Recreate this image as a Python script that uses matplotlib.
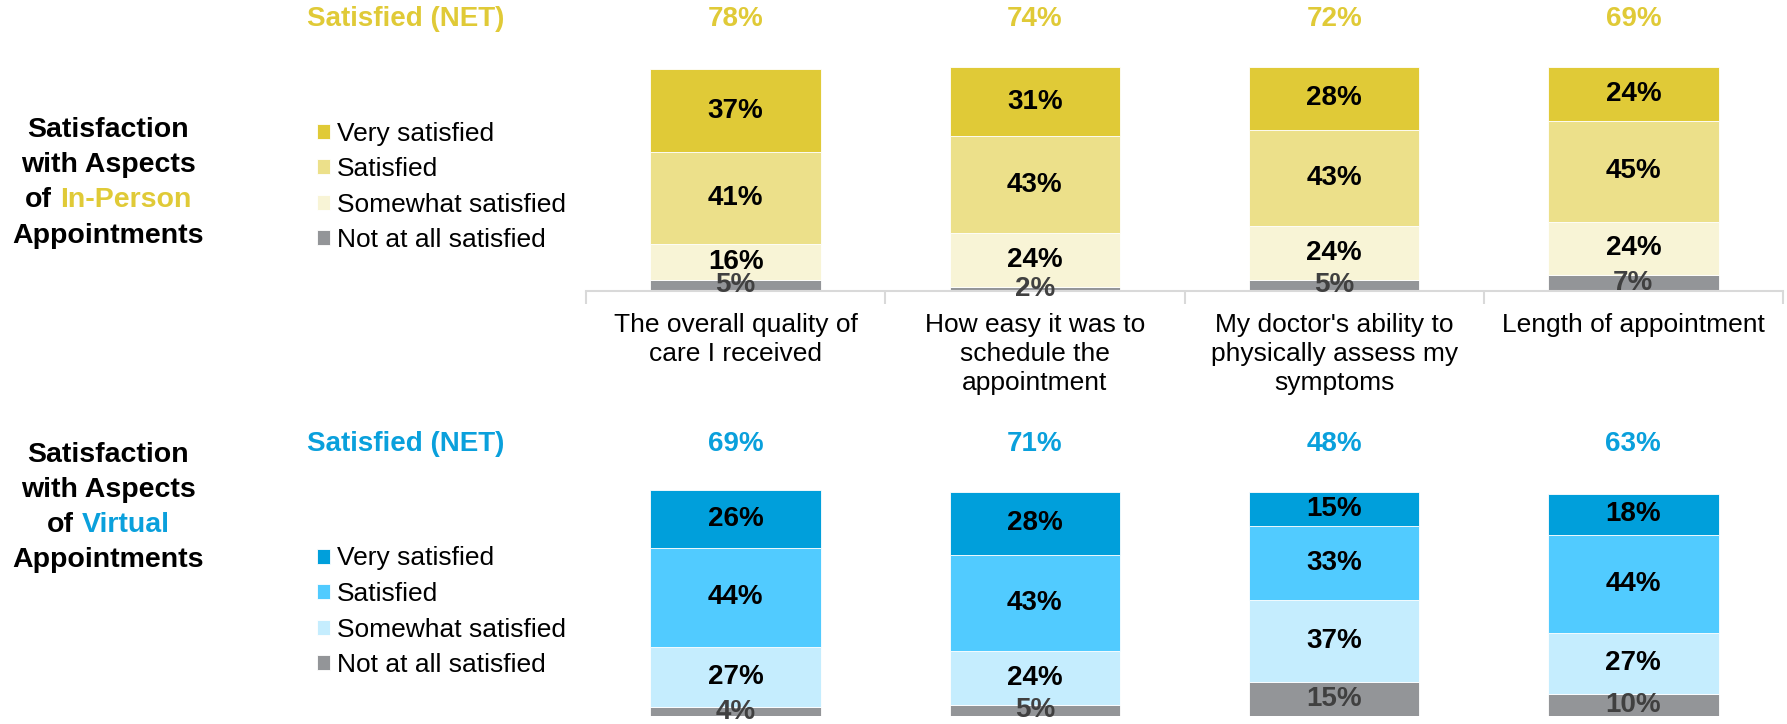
import matplotlib.pyplot as plt
import numpy as np

plt.rcParams['font.family'] = ['Liberation Sans', 'DejaVu Sans']

W, H = 1787, 724

categories = ["The overall quality of\ncare I received",
              "How easy it was to\nschedule the\nappointment",
              "My doctor's ability to\nphysically assess my\nsymptoms",
              "Length of appointment"]
levels = ["Not at all satisfied", "Somewhat satisfied", "Satisfied", "Very satisfied"]

# In-person appointments (%)
inperson_not = [5, 2, 5, 7]
inperson_somewhat = [16, 24, 24, 24]
inperson_satisfied = [41, 43, 43, 45]
inperson_very = [37, 31, 28, 24]
inperson_net = [78, 74, 72, 69]

# Virtual appointments (%)
virtual_not = [4, 5, 15, 10]
virtual_somewhat = [27, 24, 37, 27]
virtual_satisfied = [44, 43, 33, 44]
virtual_very = [26, 28, 15, 18]
virtual_net = [69, 71, 48, 63]

yellow = ['#939598', '#F8F4D6', '#ECE08A', '#E0CA37']
blue = ['#939598', '#C5EDFE', '#51CBFF', '#009FDB']
yellow_txt = '#E0CA37'
blue_txt = '#0AA0DC'

PX_PER_PCT = 2.24

fig = plt.figure(figsize=(W / 100, H / 100), dpi=100)


def px(x, y):
    return x / W, 1 - y / H


def panel(base_px, series, colors, net, net_color, with_axis, legend_top):
    ax_h = 230
    ax = fig.add_axes([586 / W, (H - base_px) / H, (1783 - 586) / W, ax_h / H])
    ax.set_xlim(-0.5, 3.5)
    ax.set_ylim(0, ax_h / PX_PER_PCT)
    x = np.arange(len(categories))
    bottom = np.zeros(len(categories))
    handles = []
    for k, vals in enumerate(series):
        vals = np.array(vals, dtype=float)
        b = ax.bar(x, vals, 0.57, bottom=bottom, color=colors[k],
                   edgecolor='white', linewidth=0.6)
        handles.append(b)
        tc = '#404040' if k == 0 else 'black'
        for xi, v, b0 in zip(x, vals, bottom):
            ax.text(xi, b0 + v / 2, f"{int(v)}%", ha='center', va='center',
                    fontsize=20, fontweight='bold', color=tc, clip_on=False)
        bottom += vals
    # NET values sit 272 px above the baseline
    for xi, n in zip(x, net):
        ax.text(xi, 272 / PX_PER_PCT, f"{n}%", ha='center', va='center',
                fontsize=20, fontweight='bold', color=net_color, clip_on=False)
    for s in ['top', 'left', 'right']:
        ax.spines[s].set_visible(False)
    ax.set_yticks([])
    if with_axis:
        ax.spines['bottom'].set_color('#D9D9D9')
        ax.spines['bottom'].set_linewidth(1.5)
        ax.set_xticks(x, categories, fontsize=19, linespacing=1.27)
        ax.tick_params(axis='x', which='major', length=0, pad=16)
        ax.set_xticks(np.arange(-0.5, 4, 1), minor=True)
        ax.tick_params(axis='x', which='minor', length=9, width=1.5, color='#D9D9D9')
    else:
        ax.spines['bottom'].set_visible(False)
        ax.set_xticks([])
    ax.legend(handles[::-1], levels[::-1], loc='upper left',
              bbox_to_anchor=px(317, legend_top), bbox_transform=fig.transFigure,
              frameon=False, fontsize=19, handlelength=0.5, handleheight=0.5,
              handletextpad=0.25, labelspacing=0.44, borderpad=0, borderaxespad=0)
    return ax


ax1 = panel(291, [inperson_not, inperson_somewhat, inperson_satisfied, inperson_very],
            yellow, inperson_net, yellow_txt, True, 121.5)
ax2 = panel(716, [virtual_not, virtual_somewhat, virtual_satisfied, virtual_very],
            blue, virtual_net, blue_txt, False, 546.5)

# NET headers
fig.text(*px(307, 19), "Satisfied (NET)", ha='left', va='center', fontsize=20,
         fontweight='bold', color=yellow_txt)
fig.text(*px(307, 444), "Satisfied (NET)", ha='left', va='center', fontsize=20,
         fontweight='bold', color=blue_txt)

renderer = fig.canvas.get_renderer()


def title_block(baselines, word, color):
    cx = 108
    kw = dict(fontsize=20.5, fontweight='bold', va='baseline')
    fig.text(*px(cx, baselines[0]), "Satisfaction", ha='center', **kw)
    fig.text(*px(cx, baselines[1]), "with Aspects", ha='center', **kw)
    fig.text(*px(cx, baselines[3]), "Appointments", ha='center', **kw)
    probe = fig.text(0, 0, "of " + word, **kw)
    w = probe.get_window_extent(renderer).width
    probe.remove()
    fig.text(*px(cx - w / 2, baselines[2]), "of", ha='left', color='black', **kw)
    fig.text(*px(cx + w / 2, baselines[2]), word, ha='right', color=color, **kw)


title_block([137, 172, 207, 243], "In-Person", yellow_txt)
title_block([462, 497, 532, 567], "Virtual", blue_txt)

fig.savefig("out.png", dpi=100)
